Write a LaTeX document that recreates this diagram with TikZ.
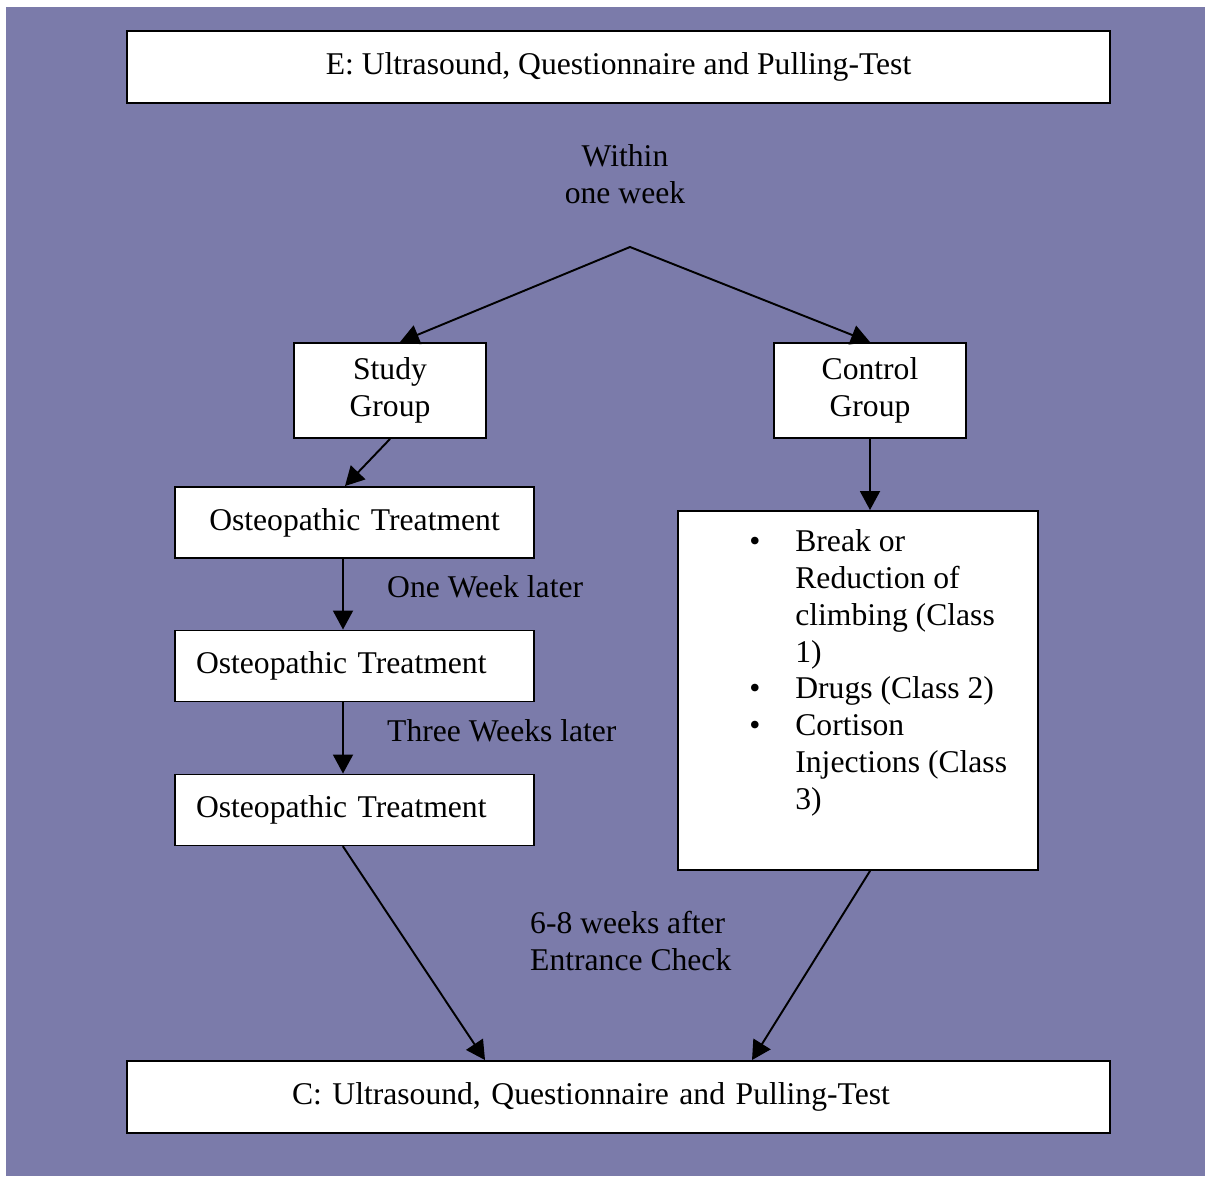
\documentclass[tikz,border=0pt]{standalone}
\usepackage{fontspec}
\setmainfont{Liberation Serif}
\usetikzlibrary{arrows.meta}
\definecolor{mpurple}{RGB}{123,123,170}
\tikzset{box/.style = {draw, fill=white, line width=1.1pt, inner sep=0pt},
         flow/.style = {line width=1.1pt, line cap=round,
                        -{Triangle[length=0.38cm, width=0.4cm]}}}

\begin{document}
\begin{tikzpicture}[y=-1cm, font=\fontsize{18}{21}\selectfont]
    \fill [white] (0, 0) rectangle (24.1, 23.52);
    \fill [mpurple] (0.12, 0.14) rectangle (24.1, 23.52);
    \useasboundingbox (0, 0) rectangle (24.1, 23.52);

    \node (entry) [box, minimum width=19.66cm, minimum height=1.44cm] at (12.37, 1.34) {E: Ultrasound, Questionnaire and Pulling-Test};
    \node (within) [align=center] at (12.5, 3.48) {Within\\one week};
    \coordinate (split) at (12.6, 4.94);

    \node (study) [box, align=center, minimum width=3.84cm, minimum height=1.9cm] at (7.8, 7.81) {Study\\Group};
    \node (control) [box, align=center, minimum width=3.84cm, minimum height=1.9cm] at (17.4, 7.81) {Control\\Group};

    \node (osteoA) [box, align=center, text width=6.34cm, inner xsep=0.42cm, minimum height=1.42cm] at (7.09, 10.45) {Osteopathic Treatment};
    \node (osteoB) [box, align=left, text width=6.34cm, inner xsep=0.42cm, minimum height=1.42cm] at (7.09, 13.32) {Osteopathic Treatment};
    \node (osteoC) [box, align=left, text width=6.34cm, inner xsep=0.42cm, minimum height=1.42cm] at (7.09, 16.2) {Osteopathic Treatment};
    \node (oneweek) [anchor=west] at (7.62, 11.74) {One Week later};
    \node (threeweeks) [anchor=west] at (7.62, 14.62) {Three Weeks later};

    \node (options) [box, minimum width=7.2cm, minimum height=7.18cm] at (17.16, 13.81) {};
    \node (optlist) [anchor=north west, align=left, inner sep=0pt] at (15.9, 10.58)
        {\llap{\textbullet\hspace{0.7cm}}Break or\\Reduction of\\climbing (Class\\1)\\
         \llap{\textbullet\hspace{0.7cm}}Drugs (Class 2)\\
         \llap{\textbullet\hspace{0.7cm}}Cortison\\Injections (Class\\3)};

    \node (gap) [anchor=west, align=left] at (10.48, 18.82) {6-8 weeks after\\Entrance Check};
    \node (check) [box, align=left, text width=13.06cm, inner xsep=3.3cm, minimum height=1.44cm] at (12.37, 21.94) {C: Ultrasound, Questionnaire and Pulling-Test};

    \draw [flow] (split) -- ([xshift=0.2cm]study.north);
    \draw [flow] (split) -- (control.north);
    \draw [flow] (study.south) -- ([xshift=-0.19cm]osteoA.north);
    \draw [flow] ([xshift=-0.23cm]osteoA.south) -- ([xshift=-0.23cm]osteoB.north);
    \draw [flow] ([xshift=-0.23cm]osteoB.south) -- ([xshift=-0.23cm]osteoC.north);
    \draw [flow] (control.south) -- (control.south |- options.north);
    \draw [flow] ([xshift=-0.23cm]osteoC.south) -- ([xshift=-2.67cm]check.north);
    \draw [flow] ([xshift=0.24cm]options.south) -- ([xshift=2.67cm]check.north);
  \end{tikzpicture}
\end{document}
